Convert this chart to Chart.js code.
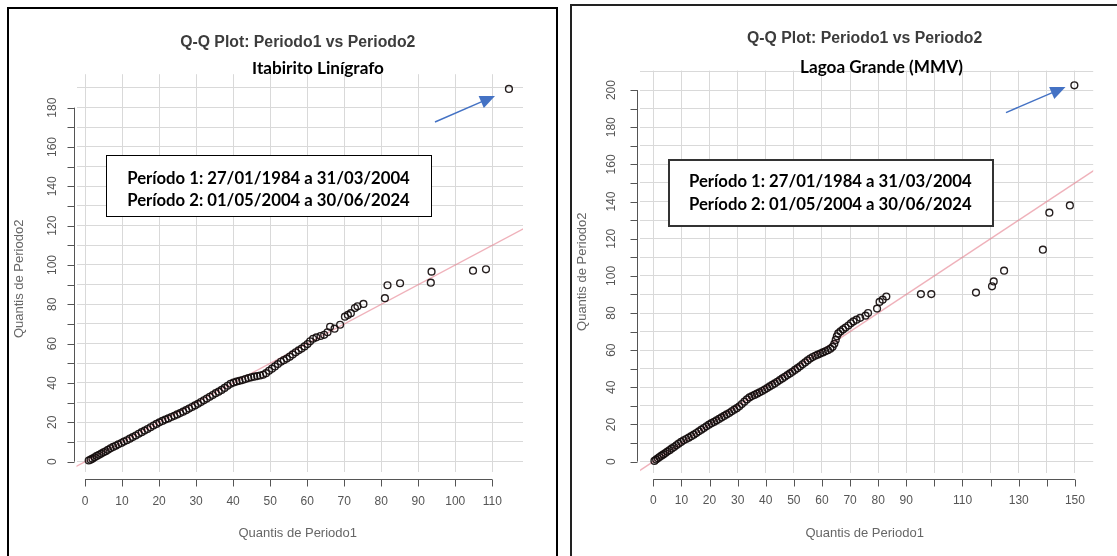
<!DOCTYPE html>
<html lang="pt">
<head>
<meta charset="utf-8">
<title>Q-Q Plot: Periodo1 vs Periodo2</title>
<script src="https://cdn.jsdelivr.net/npm/chart.js@4/dist/chart.umd.min.js"></script>
<style>
  html, body { margin: 0; padding: 0; background: #fff; }
  body { width: 1117px; height: 556px; position: relative; overflow: hidden; }
  canvas { position: absolute; top: 0; filter: blur(0.75px); }
  #cLeft { left: 0; }
  #cRight { left: 560px; }
  .panel { position: absolute; box-sizing: border-box; z-index: 3; }
  #pLeft { left: 7px; top: 7px; width: 551px; height: 570px; border: 2px solid #000; }
  #pRight { left: 570px; top: 4px; width: 580px; height: 570px; border: 2px solid #222; }
  .box { position: absolute; box-sizing: border-box; background: #fff; z-index: 2; }
  #bLeft { left: 106px; top: 155px; width: 326px; height: 62px; border: 1.5px solid #000; }
  #bRight { left: 668px; top: 159px; width: 326px; height: 68px; border: 2px solid #333; }
  .note { position: absolute; z-index: 4; white-space: nowrap; line-height: 1;
          font-family: "Lato", "Open Sans", sans-serif; font-weight: 700; color: #000;
          font-size: 18px; transform: translate(-50%, -50%); }
  #arrows { position: absolute; left: 0; top: 0; z-index: 4; pointer-events: none; }
</style>
</head>
<body>
<canvas id="cLeft" width="560" height="556"></canvas>
<canvas id="cRight" width="557" height="556"></canvas>

<div class="box" id="bLeft"></div>
<div class="box" id="bRight"></div>

<div class="note" data-w="132" style="left:318px; top:68px;">Itabirito Linígrafo</div>
<div class="note" data-w="283" style="left:268.5px; top:177.5px;">Período 1: 27/01/1984 a 31/03/2004</div>
<div class="note" data-w="283" style="left:268.5px; top:200px;">Período 2: 01/05/2004 a 30/06/2024</div>

<div class="note" data-w="163" style="left:881.5px; top:66.5px;">Lagoa Grande (MMV)</div>
<div class="note" data-w="283" style="left:830.3px; top:181.2px;">Período 1: 27/01/1984 a 31/03/2004</div>
<div class="note" data-w="283" style="left:830.3px; top:203.5px;">Período 2: 01/05/2004 a 30/06/2024</div>

<svg id="arrows" width="1117" height="556"></svg>

<div class="panel" id="pLeft"></div>
<div class="panel" id="pRight"></div>

<script>
// ---- Itabirito Linígrafo: sample quantiles (Periodo1 on x, Periodo2 on y)
const itabiritoP1 = [
  1.0, 1.5, 2.0, 2.6, 3.2, 3.8, 4.4, 5.0, 5.6, 6.2, 6.9, 7.6, 8.3, 9.0, 9.8,
  10.5, 11.3, 12.1, 12.9, 13.7, 14.5, 15.3, 16.1, 16.9, 17.7, 18.5, 19.3, 20.1,
  20.9, 21.7, 22.5, 23.3, 24.1, 24.9, 25.7, 26.5, 27.3, 28.1, 28.9, 29.7, 30.5,
  31.3, 32.1, 32.9, 33.7, 34.5, 35.3, 36.1, 36.9, 37.7, 38.5, 39.3, 40.1, 40.9,
  41.7, 42.5, 43.3, 44.1, 44.9, 45.7, 46.5, 47.3, 48.1, 48.9, 49.7, 50.5, 51.3,
  52.1, 52.9, 53.7, 54.5, 55.3, 56.1, 56.9, 57.7, 58.5, 59.3, 60.1, 60.8, 61.6,
  62.5, 63.6, 64.6, 65.5,
  66.2, 67.4, 68.9, 70.2, 71.0, 71.8, 72.9, 73.6, 75.2, 81.0, 81.7, 85.1, 93.4,
  93.6, 104.8, 108.3, 114.5
];
const itabiritoP2 = [
  0.6, 1.0, 1.5, 2.2, 2.9, 3.5, 4.1, 4.8, 5.3, 6.0, 6.8, 7.5, 8.1, 8.8, 9.5,
  10.2, 10.9, 11.7, 12.5, 13.3, 14.2, 15.0, 15.8, 16.6, 17.5, 18.4, 19.2, 20.0,
  20.7, 21.4, 22.0, 22.7, 23.3, 24.0, 24.7, 25.4, 26.2, 27.0, 27.8, 28.6, 29.4,
  30.3, 31.2, 32.1, 33.0, 33.9, 34.8, 35.6, 36.5, 37.5, 38.6, 39.6, 40.2, 40.7,
  41.1, 41.5, 42.0, 42.5, 42.9, 43.2, 43.5, 43.8, 44.2, 45.0, 46.2, 47.3, 48.4,
  49.6, 50.8, 51.6, 52.4, 53.4, 54.5, 55.6, 56.6, 57.5, 58.6, 59.8, 61.2, 62.5,
  63.2, 63.9, 64.5, 65.8,
  68.6, 67.6, 69.6, 73.7, 74.6, 75.5, 78.1, 79.0, 80.2, 83.1, 89.7, 90.7, 91.0,
  96.6, 97.1, 97.8, 189.5
];

// ---- Lagoa Grande (MMV): sample quantiles (Periodo1 on x, Periodo2 on y)
const lagoaP1 = [
  0.4, 1.0, 1.6, 2.2, 2.9, 3.6, 4.3, 5.0, 5.8, 6.6, 7.4, 8.2, 9.0, 9.9, 10.8,
  11.7, 12.6, 13.5, 14.4, 15.3, 16.2, 17.1, 18.0, 18.9, 19.8, 20.7, 21.6, 22.5,
  23.4, 24.3, 25.2, 26.1, 27.0, 27.9, 28.8, 29.7, 30.6, 31.5, 32.4, 33.3, 34.2,
  35.1, 36.0, 36.9, 37.8, 38.7, 39.6, 40.5, 41.4, 42.3, 43.2, 44.1, 45.0, 45.9,
  46.8, 47.7, 48.6, 49.5, 50.4, 51.3, 52.2, 53.1, 54.0, 54.9, 55.8, 56.7, 57.6,
  58.5, 59.4, 60.3, 61.2, 62.1, 63.0, 63.8, 64.4, 64.9, 65.3, 65.8, 66.6, 67.5,
  68.4, 69.4, 70.3, 71.2,
  72.3, 73.6, 75.5, 76.4, 79.6, 80.5, 81.6, 82.9, 95.2, 98.9, 114.8, 120.5,
  121.1, 124.8, 138.6, 140.9, 148.2, 149.8
];
const lagoaP2 = [
  0.4, 1.1, 1.8, 2.5, 3.2, 3.9, 4.6, 5.4, 6.2, 7.1, 7.9, 8.8, 9.7, 10.6, 11.5,
  12.2, 12.9, 13.7, 14.5, 15.4, 16.3, 17.2, 18.1, 19.0, 19.9, 20.7, 21.4, 22.2,
  23.0, 23.8, 24.6, 25.4, 26.2, 27.1, 28.0, 28.8, 29.8, 31.0, 32.3, 33.5, 34.6,
  35.3, 35.9, 36.6, 37.3, 38.0, 38.8, 39.6, 40.5, 41.3, 42.1, 43.0, 43.9, 44.8,
  45.7, 46.6, 47.5, 48.4, 49.4, 50.3, 51.3, 52.4, 53.4, 54.5, 55.5, 56.3, 57.0,
  57.6, 58.2, 58.8, 59.4, 60.0, 60.8, 61.8, 63.4, 65.5, 67.5, 69.0, 70.1, 71.2,
  72.2, 73.3, 74.5, 75.5,
  76.4, 77.4, 78.6, 80.0, 82.4, 86.0, 87.2, 88.9, 90.2, 90.2, 91.0, 94.4,
  97.0, 102.8, 114.1, 134.0, 137.9, 202.6
];

// ---- identity reference line y = x
const refLine = [-20, 220];

// ---- axis ticks and their labels (R drops some labels that would overlap)
const itabiritoXTicks  = [0, 10, 20, 30, 40, 50, 60, 70, 80, 90, 100, 110];
const itabiritoXLabels = ['0', '10', '20', '30', '40', '50', '60', '70', '80', '90', '100', '110'];
const itabiritoYTicks  = [0, 10, 20, 30, 40, 50, 60, 70, 80, 90, 100, 110, 120, 130, 140, 150, 160, 170, 180];
const itabiritoYLabels = ['0', '', '20', '', '40', '', '60', '', '80', '', '100', '', '120', '', '140', '', '160', '', '180'];

const lagoaXTicks  = [0, 10, 20, 30, 40, 50, 60, 70, 80, 90, 100, 110, 120, 130, 140, 150];
const lagoaXLabels = ['0', '10', '20', '30', '40', '50', '60', '70', '80', '90', '', '110', '', '130', '', '150'];
const lagoaYTicks  = [0, 10, 20, 30, 40, 50, 60, 70, 80, 90, 100, 110, 120, 130, 140, 150, 160, 170, 180, 190, 200];
const lagoaYLabels = ['0', '', '20', '', '40', '', '60', '', '80', '', '100', '', '120', '', '140', '', '160', '', '180', '', '200'];

const mainTitle = 'Q-Q Plot: Periodo1 vs Periodo2';
const xTitle = 'Quantis de Periodo1';
const yTitle = 'Quantis de Periodo2';

// R-style axes: detached axis lines spanning the first..last tick, outward tick marks,
// y labels parallel to the axis, plus main and axis titles.
const rAxes = {
  id: 'rAxes',
  afterDraw(chart, args, o) {
    const { ctx, chartArea: a } = chart;
    const xs = chart.scales.x, ys = chart.scales.y;
    ctx.save();
    ctx.strokeStyle = '#555';
    ctx.lineWidth = 1;
    ctx.fillStyle = '#555';

    // x axis
    const ay = Math.round(a.bottom + o.xAxisGap) + 0.5;
    const xa = xs.getPixelForValue(o.xTicks[0]);
    const xb = xs.getPixelForValue(o.xTicks[o.xTicks.length - 1]);
    ctx.beginPath();
    ctx.moveTo(xa, ay); ctx.lineTo(xb, ay);
    o.xTicks.forEach(v => {
      const px = Math.round(xs.getPixelForValue(v)) + 0.5;
      ctx.moveTo(px, ay); ctx.lineTo(px, ay + 7);
    });
    // y axis
    const ax = Math.round(a.left - o.yAxisGap) + 0.5;
    const ya = ys.getPixelForValue(o.yTicks[0]);
    const yb = ys.getPixelForValue(o.yTicks[o.yTicks.length - 1]);
    ctx.moveTo(ax, ya); ctx.lineTo(ax, yb);
    o.yTicks.forEach(v => {
      const py = Math.round(ys.getPixelForValue(v)) + 0.5;
      ctx.moveTo(ax, py); ctx.lineTo(ax - 7, py);
    });
    ctx.stroke();

    // tick labels
    ctx.font = '12px "Liberation Sans", Arial, sans-serif';
    ctx.textAlign = 'center';
    ctx.textBaseline = 'middle';
    o.xTicks.forEach((v, i) => {
      if (o.xLabels[i]) ctx.fillText(o.xLabels[i], xs.getPixelForValue(v), ay + o.xLabelGap);
    });
    o.yTicks.forEach((v, i) => {
      if (!o.yLabels[i]) return;
      ctx.save();
      ctx.translate(ax - o.yLabelGap, ys.getPixelForValue(v));
      ctx.rotate(-Math.PI / 2);
      ctx.fillText(o.yLabels[i], 0, 0);
      ctx.restore();
    });

    // axis titles
    const cx = (a.left + a.right) / 2 - 2;
    ctx.fillStyle = '#666';
    ctx.font = '13px "Liberation Sans", Arial, sans-serif';
    ctx.fillText(o.xTitle, cx, ay + 54);
    ctx.save();
    ctx.translate(ax - 55, (a.top + a.bottom) / 2 + o.yTitleShift);
    ctx.rotate(-Math.PI / 2);
    ctx.fillText(o.yTitle, 0, 0);
    ctx.restore();

    // main title
    ctx.fillStyle = '#3c3c3c';
    ctx.font = 'bold 15.8px "Liberation Sans", Arial, sans-serif';
    ctx.fillText(o.title, cx, a.top - 31.5);
    ctx.restore();
  }
};

function qqChart(canvasId, p1, p2, ranges, padding, axes) {
  const pts = p1.map((v, i) => ({ x: v, y: p2[i] }));
  const ref = refLine.map(v => ({ x: v, y: v }));
  const gridStyle = { color: '#d9d9d9', lineWidth: 1, drawTicks: false };
  return new Chart(document.getElementById(canvasId), {
    data: {
      datasets: [
        {
          type: 'line', data: ref, borderColor: 'rgba(228,125,140,0.6)',
          borderWidth: 1.4, pointRadius: 0, fill: false, order: 2
        },
        {
          type: 'scatter', data: pts, pointStyle: 'circle', pointRadius: 3.4,
          borderWidth: 1.4, borderColor: 'rgba(20,12,12,0.92)',
          backgroundColor: 'rgba(0,0,0,0)', order: 1
        }
      ]
    },
    options: {
      responsive: false,
      animation: false,
      events: [],
      layout: { padding },
      plugins: { legend: { display: false }, tooltip: { enabled: false }, rAxes: axes },
      scales: {
        x: {
          type: 'linear', min: ranges.xMin, max: ranges.xMax,
          ticks: { display: false, stepSize: 10, includeBounds: false },
          grid: gridStyle, border: { display: false },
          afterFit: s => { s.height = 0; }
        },
        y: {
          type: 'linear', min: ranges.yMin, max: ranges.yMax,
          ticks: { display: false, stepSize: 10, includeBounds: false },
          grid: gridStyle, border: { display: false },
          afterFit: s => { s.width = 0; }
        }
      }
    },
    plugins: [rAxes]
  });
}

qqChart('cLeft', itabiritoP1, itabiritoP2,
  { xMin: -2.3, xMax: 118.3, yMin: -5, yMax: 197 },
  { left: 76.5, right: 37, top: 74.2, bottom: 84.5 },
  { xTicks: itabiritoXTicks, xLabels: itabiritoXLabels, yTicks: itabiritoYTicks, yLabels: itabiritoYLabels,
    title: mainTitle, xTitle, yTitle, xAxisGap: 7.8, yAxisGap: 2.5, xLabelGap: 22.4, yLabelGap: 22.3, yTitleShift: 6 });

qqChart('cRight', lagoaP1, lagoaP2,
  { xMin: -4.7, xMax: 156.5, yMin: -6, yMax: 210.5 },
  { left: 80.1, right: 23.8, top: 70.6, bottom: 83.2 },
  { xTicks: lagoaXTicks, xLabels: lagoaXLabels, yTicks: lagoaYTicks, yLabels: lagoaYLabels,
    title: mainTitle, xTitle, yTitle, xAxisGap: 6.5, yAxisGap: 2.8, xLabelGap: 21.4, yLabelGap: 25.6, yTitleShift: 0 });

// size the annotation text to its measured width
document.querySelectorAll('.note').forEach(el => {
  const target = parseFloat(el.dataset.w);
  const w = el.getBoundingClientRect().width;
  const fs = parseFloat(getComputedStyle(el).fontSize);
  el.style.fontSize = (fs * target / w).toFixed(2) + 'px';
});

// blue call-out arrows pointing at the largest quantile of each plot
const svgNS = 'http://www.w3.org/2000/svg';
const svg = document.getElementById('arrows');
function arrow(x1, y1, x2, y2) {
  const dx = x2 - x1, dy = y2 - y1, len = Math.hypot(dx, dy);
  const ux = dx / len, uy = dy / len, nx = -uy, ny = ux;
  const head = 15, half = 6.5;
  const bx = x2 - ux * head, by = y2 - uy * head;
  const line = document.createElementNS(svgNS, 'line');
  line.setAttribute('x1', x1); line.setAttribute('y1', y1);
  line.setAttribute('x2', bx + ux * 2); line.setAttribute('y2', by + uy * 2);
  line.setAttribute('stroke', '#4472C4'); line.setAttribute('stroke-width', '1.5');
  svg.appendChild(line);
  const tri = document.createElementNS(svgNS, 'polygon');
  tri.setAttribute('points', `${x2},${y2} ${bx + nx * half},${by + ny * half} ${bx - nx * half},${by - ny * half}`);
  tri.setAttribute('fill', '#4472C4');
  svg.appendChild(tri);
}
arrow(435, 122, 495, 96);
arrow(1006, 112.6, 1065.5, 87);
</script>
</body>
</html>
